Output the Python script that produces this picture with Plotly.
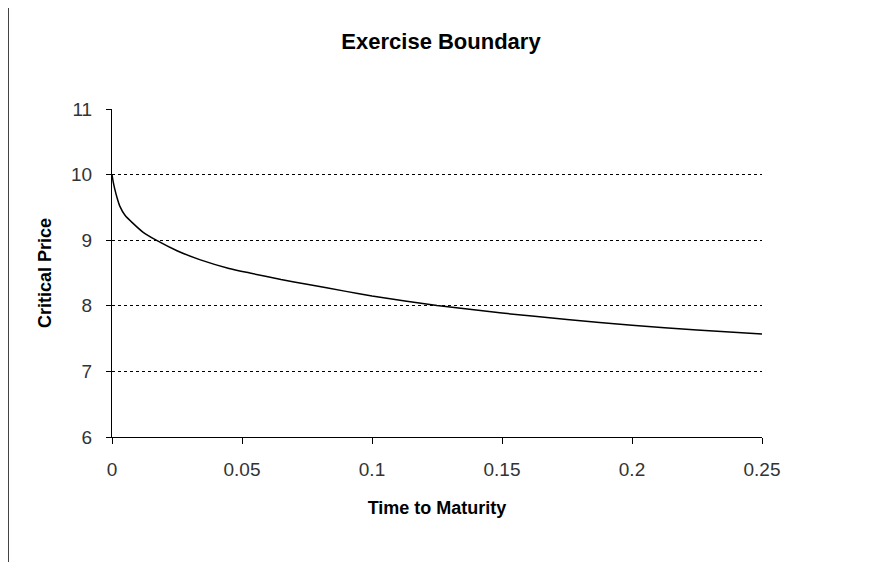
import plotly.graph_objects as go

# Data
time_to_maturity = [0, 0.0005, 0.001, 0.002, 0.003, 0.005, 0.008, 0.012, 0.017, 0.025,
                    0.034, 0.045, 0.053, 0.065, 0.075, 0.09, 0.1, 0.125, 0.15, 0.175,
                    0.2, 0.225, 0.25]
critical_price = [10.0, 9.88, 9.79, 9.64, 9.52, 9.38, 9.26, 9.12, 9.0, 8.84,
                  8.70, 8.57, 8.50, 8.40, 8.33, 8.22, 8.15, 8.005, 7.89, 7.79,
                  7.705, 7.63, 7.57]
x_ticks = [0, 0.05, 0.1, 0.15, 0.2, 0.25]
x_tick_labels = ["0", "0.05", "0.1", "0.15", "0.2", "0.25"]
y_ticks = [6, 7, 8, 9, 10, 11]
grid_vals = [7, 8, 9, 10]

FONT = "Liberation Sans, Arial, sans-serif"

fig = go.Figure()
fig.add_trace(go.Scatter(
    x=time_to_maturity, y=critical_price, mode="lines",
    line=dict(color="black", width=1.5, shape="spline", smoothing=0.5),
    showlegend=False, hoverinfo="skip",
))
# invisible trace on overlay axis that carries the dashed gridlines
fig.add_trace(go.Scatter(x=[0], y=[None], yaxis="y2", showlegend=False, hoverinfo="skip"))

W, H = 883, 562
L, T = 104, 101
pw, ph = 650, 328
R = W - L - pw
B = H - T - ph

fig.update_layout(
    width=W, height=H,
    margin=dict(l=L, r=R, t=T, b=B),
    paper_bgcolor="white", plot_bgcolor="white",
    title=dict(text="<b>Exercise Boundary</b>", x=(441 - 8) / W, xref="container",
               xanchor="center",
               y=1 - 33 / H, yref="container", yanchor="middle",
               font=dict(family=FONT, size=22, color="black")),
    xaxis=dict(range=[0, 0.25], tickvals=x_ticks, ticktext=x_tick_labels,
               showline=True, linecolor="black", linewidth=1,
               ticks="outside", ticklen=6, tickcolor="black", showgrid=False,
               zeroline=False, ticklabelstandoff=9,
               tickfont=dict(family=FONT, size=19, color="#333"),
               title=dict(text="<b>Time to Maturity</b>", standoff=22,
                          font=dict(family=FONT, size=18, color="black"))),
    yaxis=dict(range=[6, 11], tickvals=y_ticks,
               showline=True, linecolor="black", linewidth=1,
               ticks="outside", ticklen=5, tickcolor="black", showgrid=False,
               zeroline=False, ticklabelstandoff=10,
               tickfont=dict(family=FONT, size=19, color="#333"),
               title=dict(text="<b>Critical Price</b>", standoff=14,
                          font=dict(family=FONT, size=18, color="black"))),
    yaxis2=dict(range=[6, 11], tickvals=grid_vals, overlaying="y",
                showticklabels=False, ticks="", showline=False, zeroline=False,
                showgrid=True, gridcolor="black", gridwidth=1, griddash="3px,3px"),
    shapes=[dict(type="rect", xref="paper", yref="paper",
                 x0=(0.5 - L) / pw, x1=(W + 20 - L) / pw,
                 y0=-(B + 20) / ph, y1=(H - T - 0.5) / ph,
                 line=dict(color="#444", width=1), layer="below")],
)

fig.write_html("out.html")
